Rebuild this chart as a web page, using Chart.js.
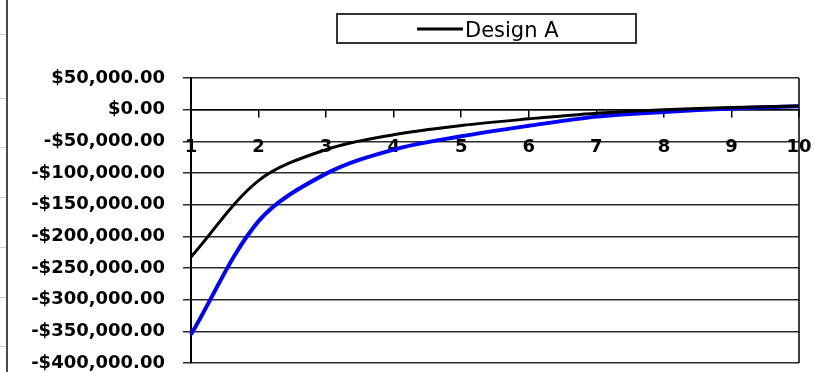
<!DOCTYPE html>
<html>
<head>
<meta charset="utf-8">
<script src="https://cdn.jsdelivr.net/npm/chart.js@4.4.1/dist/chart.umd.min.js"></script>
<style>
  html, body { margin: 0; padding: 0; background: #fff; }
  #wrap { width: 815px; height: 372px; position: relative; }
</style>
</head>
<body>
<div id="wrap"><canvas id="chart"></canvas></div>
<script>
// Year of operation on the category axis
const years = ['1', '2', '3', '4', '5', '6', '7', '8', '9', '10'];

// Cumulative value per year, in dollars
const designA = [-232500, -112000, -63000, -39500, -25000, -14500, -5500, 0, 3500, 5700];
const designB = [-355000, -176000, -101000, -63000, -42000, -25500, -11000, -3500, 2000, 5500];

// Value axis ticks
const yTickValues = [50000, 0, -50000, -100000, -150000, -200000, -250000, -300000, -350000, -400000];

const seriesNames = ['Design A', 'Design B'];

function money(v) {
  const s = Math.abs(v).toLocaleString('en-US', { minimumFractionDigits: 2, maximumFractionDigits: 2 });
  return (v < 0 ? '-$' : '$') + s;
}

Chart.defaults.font.family = '"DejaVu Sans", sans-serif';
Chart.defaults.color = '#000';

// Keep tick labels from shrinking the plot area; the page padding handles it
function noEdgePadding(scale) {
  scale.paddingLeft = 0;
  scale.paddingRight = 0;
  scale.paddingTop = 0;
  scale.paddingBottom = 0;
}

// Boxed legend showing the first series, plus the sheet edge on the left
const framePlugin = {
  id: 'frame',
  beforeDraw(chart) {
    const ctx = chart.ctx;
    ctx.save();
    ctx.fillStyle = '#fff';
    ctx.fillRect(0, 0, chart.width, chart.height);
    // faint sheet row lines
    ctx.strokeStyle = '#c9d2de';
    ctx.lineWidth = 1;
    [34, 98, 147, 197, 247, 297, 346].forEach(y => {
      ctx.beginPath();
      ctx.moveTo(0, y + 0.5);
      ctx.lineTo(6, y + 0.5);
      ctx.stroke();
    });
    // sheet edge
    ctx.strokeStyle = '#4a4a4a';
    ctx.lineWidth = 2;
    ctx.beginPath();
    ctx.moveTo(7, 0);
    ctx.lineTo(7, chart.height);
    ctx.stroke();
    ctx.restore();
  },
  beforeDatasetsDraw(chart) {
    const { ctx, chartArea: a } = chart;
    ctx.save();
    ctx.strokeStyle = '#000';
    ctx.lineWidth = 1.5;
    ctx.beginPath();
    ctx.moveTo(a.right, a.top);
    ctx.lineTo(a.right, a.bottom);
    ctx.stroke();
    ctx.restore();
  },
  afterDraw(chart) {
    const ctx = chart.ctx;
    const ds = chart.data.datasets[0];
    ctx.save();
    ctx.strokeStyle = '#333';
    ctx.lineWidth = 2;
    ctx.strokeRect(337, 14, 299, 29);
    ctx.strokeStyle = ds.borderColor;
    ctx.lineWidth = 3;
    ctx.beginPath();
    ctx.moveTo(417, 29);
    ctx.lineTo(463, 29);
    ctx.stroke();
    ctx.fillStyle = '#000';
    ctx.font = '21px "DejaVu Sans"';
    ctx.textBaseline = 'alphabetic';
    ctx.textAlign = 'left';
    ctx.fillText(ds.label, 465, 37);
    ctx.restore();
  }
};

new Chart(document.getElementById('chart'), {
  type: 'line',
  data: {
    labels: years,
    datasets: [
      {
        label: seriesNames[0],
        data: designA,
        borderColor: '#000000',
        borderWidth: 3,
        pointRadius: 0,
        tension: 0.33,
        fill: false
      },
      {
        label: seriesNames[1],
        data: designB,
        borderColor: '#0000ff',
        borderWidth: 4,
        pointRadius: 0,
        tension: 0.33,
        fill: false
      }
    ]
  },
  options: {
    responsive: true,
    maintainAspectRatio: false,
    animation: false,
    layout: { padding: { top: 78, right: 16, bottom: 9, left: 0 } },
    plugins: {
      legend: { display: false },
      tooltip: { enabled: false }
    },
    scales: {
      x: {
        type: 'category',
        position: { y: 0 },
        offset: false,
        afterFit: noEdgePadding,
        grid: {
          drawOnChartArea: false,
          drawTicks: true,
          tickLength: 7,
          color: '#000',
          lineWidth: 1.5
        },
        border: { display: true, color: '#000', width: 1.5 },
        ticks: {
          font: { size: 18, weight: 'bold' },
          color: '#000',
          padding: 20,
          maxRotation: 0,
          autoSkip: false
        }
      },
      y: {
        min: -400000,
        max: 50000,
        afterBuildTicks(scale) {
          scale.ticks = yTickValues.map(v => ({ value: v }));
        },
        afterFit(scale) {
          scale.width = 191;
          noEdgePadding(scale);
        },
        grid: {
          color: '#2a2a2a',
          lineWidth: 1.5,
          tickLength: 8,
          drawTicks: true
        },
        border: { display: true, color: '#000', width: 2 },
        ticks: {
          font: { size: 18, weight: 'bold', lineHeight: 1 },
          color: '#000',
          padding: 18,
          callback: v => money(v)
        }
      }
    }
  },
  plugins: [framePlugin]
});
</script>
</body>
</html>
